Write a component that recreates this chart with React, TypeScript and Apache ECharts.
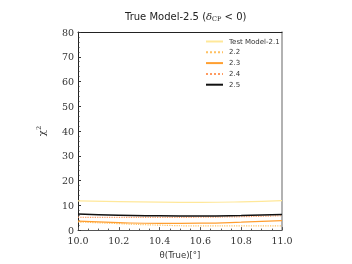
import React, { useEffect, useRef } from "react";
import * as echarts from "echarts";

const thetaValues = [10.0, 10.2, 10.4, 10.6, 10.8, 11.0];
const seriesNames = ["Test Model-2.1", "2.2", "2.3", "2.4", "2.5"];
const model21 = [11.8, 11.5, 11.3, 11.2, 11.4, 11.9];
const model22 = [3.3, 2.6, 2.0, 1.7, 1.7, 1.7];
const model23 = [3.6, 3.0, 2.7, 2.8, 3.2, 3.8];
const model24 = [5.2, 5.1, 5.1, 5.2, 5.4, 5.8];
const model25 = [6.5, 6.0, 5.8, 5.7, 5.9, 6.3];
const yTicks = [0, 10, 20, 30, 40, 50, 60, 70, 80];

const colors = ["#ffe89a", "#ffc060", "#ff9f30", "#ff9a60", "#111111"];
const dashes: ("solid" | "dotted")[] = ["solid", "dotted", "solid", "dotted", "solid"];
const widths = [1.2, 1.2, 1.2, 1.2, 1.5];

export default function App() {
  const ref = useRef<HTMLDivElement>(null);
  useEffect(() => {
    if (!ref.current) return;
    const chart = echarts.init(ref.current, undefined, { renderer: "svg" });
    const all = [model21, model22, model23, model24, model25];
    const serif = "DejaVu Serif";
    chart.setOption({
      animation: false,
      title: {
        text: "True Model-2.5 ({i|δ}{s|CP} < 0)",
        left: 120,
        top: 6,
        textStyle: {
          fontSize: 10,
          fontWeight: "normal",
          color: "#222",
          fontFamily: "DejaVu Sans",
          rich: {
            i: { fontSize: 10, fontStyle: "italic", fontFamily: serif, color: "#222" },
            s: { fontSize: 6.5, verticalAlign: "bottom", padding: [4, 0, 0, 0], fontFamily: serif, color: "#222" },
          },
        },
      },
      legend: {
        orient: "vertical",
        left: 200,
        top: 33,
        itemWidth: 17,
        itemHeight: 6,
        itemGap: 3.8,
        data: seriesNames,
        itemStyle: { opacity: 0 },
        textStyle: { fontSize: 7, color: "#333", fontFamily: "DejaVu Sans", padding: [0, 0, 0, 1] },
      },
      grid: { left: 78, top: 32, right: 70, bottom: 30 },
      xAxis: [
        {
          type: "value",
          min: 10,
          max: 11,
          interval: 0.2,
          name: "θ(True)[°]",
          nameLocation: "middle",
          nameGap: 19,
          nameTextStyle: { fontSize: 8.5, color: "#333", fontFamily: "DejaVu Sans" },
          axisLine: { lineStyle: { color: "#555", width: 1 } },
          axisTick: { inside: true, length: 3, lineStyle: { color: "#555" } },
          minorTick: { show: true, splitNumber: 4, length: 1.5, lineStyle: { color: "#555" } },
          axisLabel: {
            formatter: (v: number) => v.toFixed(1),
            fontSize: 9.5,
            lineHeight: 10,
            color: "#333",
            fontFamily: serif,
            margin: 5,
          },
          splitLine: { show: false },
        },
        {
          type: "value",
          position: "top",
          min: 10,
          max: 11,
          axisLine: { show: true, onZero: false, lineStyle: { color: "#222", width: 1 } },
          axisTick: { show: false },
          axisLabel: { show: false },
          splitLine: { show: false },
        },
      ],
      yAxis: [
        {
          type: "value",
          min: yTicks[0],
          max: yTicks[yTicks.length - 1],
          interval: 10,
          name: "{c|χ}{p|2}",
          nameLocation: "middle",
          nameRotate: 90,
          nameGap: 30,
          nameTextStyle: {
            rich: {
              c: { fontSize: 10, fontFamily: serif, color: "#333" },
              p: { fontSize: 6.5, verticalAlign: "top", fontFamily: serif, color: "#333", padding: [0, 0, 6, 0] },
            },
          },
          axisLine: { show: true, onZero: false, lineStyle: { color: "#222", width: 1 } },
          axisTick: { inside: true, length: 3, lineStyle: { color: "#333" } },
          minorTick: { show: true, splitNumber: 5, length: 1.5, lineStyle: { color: "#333" } },
          axisLabel: { fontSize: 9.5, lineHeight: 9, color: "#333", fontFamily: serif, margin: 4 },
          splitLine: { show: false },
        },
        {
          type: "value",
          position: "right",
          min: 0,
          max: 80,
          axisLine: { show: true, onZero: false, lineStyle: { color: "#999", width: 1.5 } },
          axisTick: { show: false },
          axisLabel: { show: false },
          splitLine: { show: false },
        },
      ],
      series: all.map((vals, i) => ({
        name: seriesNames[i],
        type: "line",
        smooth: true,
        symbol: "none",
        data: vals.map((v, j) => [thetaValues[j], v]),
        lineStyle: { color: colors[i], type: dashes[i], width: widths[i] },
        itemStyle: { color: colors[i] },
        z: i === 4 ? 5 : 3,
      })),
    });
    return () => chart.dispose();
  }, []);
  return (
    <div
      ref={ref}
      style={{ position: "fixed", left: 0, top: 0, width: 352, height: 264 }}
    />
  );
}
